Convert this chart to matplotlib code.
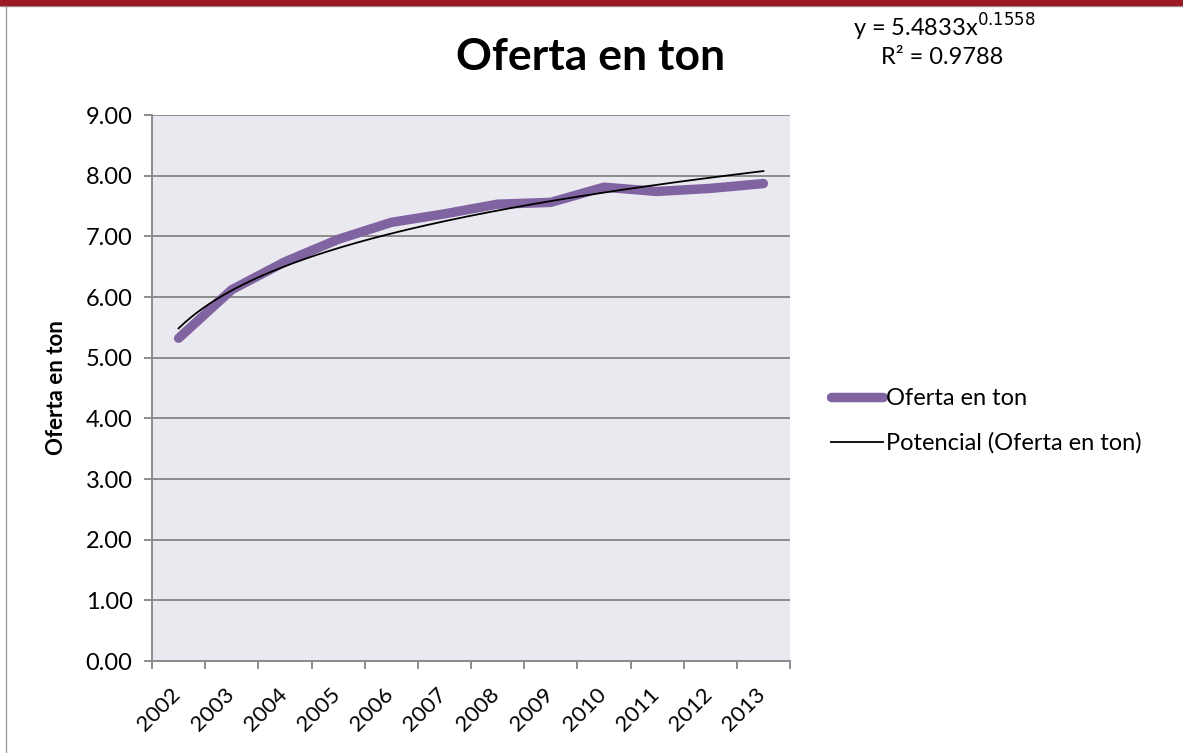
import numpy as np
import matplotlib
matplotlib.use('Agg')
import matplotlib.pyplot as plt
from matplotlib.lines import Line2D
from matplotlib.patches import Rectangle
from matplotlib.transforms import ScaledTranslation

plt.rcParams['font.family'] = ['Lato', 'DejaVu Sans']

years = ['2002', '2003', '2004', '2005', '2006', '2007',
         '2008', '2009', '2010', '2011', '2012', '2013']
oferta = [5.32, 6.12, 6.58, 6.95, 7.23, 7.37, 7.53, 7.56, 7.81, 7.74, 7.79, 7.87]

# power trendline given on the chart
coef_a = 5.4833
coef_b = 0.1558
r2 = 0.9788

fs = 17

fig = plt.figure(figsize=(11.83, 7.53), dpi=100)
ax = fig.add_axes([152 / 1183, 1 - 661 / 753, 638 / 1183, 546 / 753])
ax.set_facecolor('#EBE9F0')

x = np.arange(1, len(years) + 1)
ax.plot(x, oferta, color='#8064A2', lw=6.8, solid_capstyle='round',
        solid_joinstyle='round', zorder=3)
xt = np.linspace(1, len(years), 200)
ax.plot(xt, coef_a * xt ** coef_b, color='black', lw=1.3, zorder=4)

ax.set_xlim(0.5, len(years) + 0.5)
ax.set_ylim(0, 9)
ax.set_yticks(np.arange(0, 10, 1))
ax.set_yticklabels(['%.2f' % v for v in np.arange(0, 10, 1)], fontsize=fs)
ax.yaxis.grid(True, color='#8C8C8C', lw=1.4)
ax.set_axisbelow(True)

# category boundaries as ticks, year labels drawn rotated below
ax.set_xticks(np.arange(0.5, len(years) + 1, 1))
ax.set_xticklabels([])
off = ax.transData + ScaledTranslation(-1 / 100, -30 / 100, fig.dpi_scale_trans)
for xi, yr in zip(x, years):
    ax.text(xi, 0, yr, transform=off, rotation=45, ha='right', va='center',
            rotation_mode='anchor', fontsize=16, clip_on=False)
ax.tick_params(axis='x', which='major', length=6, color='#8C8C8C', width=1.4)
ax.tick_params(axis='y', length=6, color='#8C8C8C', width=1.4, pad=8)

for s in ['top', 'right']:
    ax.spines[s].set_visible(False)
for s in ['left', 'bottom']:
    ax.spines[s].set_color('#8C8C8C')
    ax.spines[s].set_linewidth(1.4)

ax.set_ylabel('Oferta en ton', fontsize=16, fontweight='bold')
ax.yaxis.set_label_coords((67 - 152) / 638, (661 - 388) / 546)

fig.text(591 / 1183, 1 - 57 / 753, 'Oferta en ton', fontsize=32,
         fontweight='bold', ha='center', va='center')
fig.text(944 / 1183, 1 - 27 / 753, r'y = 5.4833x$^{0.1558}$', fontsize=fs,
         ha='center', va='center')
fig.text(942 / 1183, 1 - 58 / 753, 'R² = 0.9788', fontsize=fs,
         ha='center', va='center')

handles = [Line2D([], [], color='#8064A2', lw=6.8, solid_capstyle='round'),
           Line2D([], [], color='black', lw=1.3)]
fig.legend(handles, ['Oferta en ton', 'Potencial (Oferta en ton)'],
           loc='center left', bbox_to_anchor=(810 / 1183, 1 - 421 / 753),
           frameon=False, fontsize=fs, handlelength=2.2, handletextpad=0.1,
           labelspacing=1.0)

# chart frame
fig.patches.append(Rectangle((0, 1 - 5 / 753), 1, 5 / 753, transform=fig.transFigure,
                             color='#9B1B24', zorder=10))
fig.lines.append(Line2D([0, 1], [1 - 6 / 753, 1 - 6 / 753], transform=fig.transFigure,
                        color='#A0A0A0', lw=1))
fig.lines.append(Line2D([6 / 1183, 6 / 1183], [0, 1 - 6 / 753], transform=fig.transFigure,
                        color='#A0A0A0', lw=1))

fig.savefig('out.png', dpi=100)
